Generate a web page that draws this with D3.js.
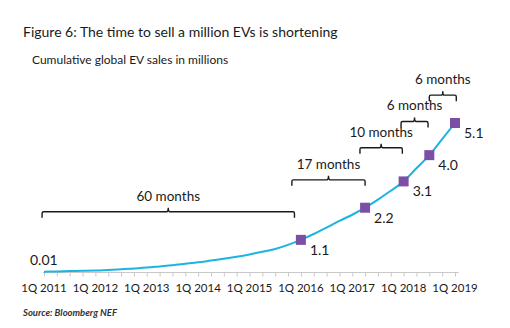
<!DOCTYPE html>
<html>
<head>
<meta charset="utf-8">
<script src="https://cdn.jsdelivr.net/npm/d3@7"></script>
<style>
  body { margin: 0; background: #fff; }
  svg { display: block; font-family: Lato, "Noto Sans", sans-serif; }
</style>
</head>
<body>
<div id="chart"></div>
<script>
// cumulative global EV sales (millions), one value per quarter from 1Q 2011 to 1Q 2019
let quarters = d3.range(33);
let sales = [0.01, 0.02, 0.03, 0.04, 0.05, 0.07, 0.09, 0.12, 0.15, 0.19,
             0.23, 0.28, 0.33, 0.39, 0.45, 0.52, 0.60, 0.69, 0.79, 0.93,
             1.1, 1.3, 1.52, 1.75, 1.96, 2.2, 2.48, 2.78, 3.1, 3.55,
             4.0, 4.55, 5.1];

// the quarters where another million was reached
let milestoneQuarters = [20, 25, 28, 30, 32];
let milestoneLabels = ["1.1", "2.2", "3.1", "4.0", "5.1"];

// tick labels every fourth quarter
let tickQuarters = [0, 4, 8, 12, 16, 20, 24, 28, 32];
let tickLabels = ["1Q 2011", "1Q 2012", "1Q 2013", "1Q 2014", "1Q 2015",
                  "1Q 2016", "1Q 2017", "1Q 2018", "1Q 2019"];

// time taken for each million, spanning quarter indices
let bracketLabels = ["60 months", "17 months", "10 months", "6 months", "6 months"];
let bracketFrom = [0, 20, 25, 28, 30];
let bracketStart = [-0.15, 19.3, 24.6, 27.8, 30.0];
let bracketEnd = [19.5, 25.0, 27.9, 29.9, 32.1];

let width = 510;
let height = 328;

let svg = d3.select("#chart")
    .append("svg")
    .attr("width", width)
    .attr("height", height);

let x = d3.scaleLinear()
    .domain([0, 32])
    .range([44, 455]);

let y = d3.scaleLinear()
    .domain([0, 5.1])
    .range([272, 123]);

// titles
svg.append("text")
    .attr("x", 23)
    .attr("y", 37)
    .attr("font-size", "14px")
    .attr("fill", "#1a1a1a")
    .text("Figure 6: The time to sell a million EVs is shortening");

svg.append("text")
    .attr("x", 32)
    .attr("y", 64)
    .attr("font-size", "12px")
    .attr("fill", "#1a1a1a")
    .text("Cumulative global EV sales in millions");

// x axis with a tick every quarter
let axis = svg.append("g")
    .attr("transform", `translate(0, ${y(0) + 0.5})`)
    .call(d3.axisBottom(x)
        .tickValues(quarters)
        .tickSize(4)
        .tickFormat(""));

axis.select(".domain")
    .attr("d", `M${x(-0.1)},0H${x(32.3)}`)
    .attr("stroke", "#c8c8c8");
axis.selectAll(".tick line").attr("stroke", "#c8c8c8");

svg.append("g")
    .selectAll("text")
    .data(tickQuarters)
    .join("text")
        .attr("x", d => x(d))
        .attr("y", 292)
        .attr("text-anchor", "middle")
        .attr("font-size", "11.5px")
        .attr("fill", "#1a1a1a")
        .text((d, i) => tickLabels[i]);

// sales line
let line = d3.line()
    .x((d, i) => x(quarters[i]))
    .y(d => y(d))
    .curve(d3.curveMonotoneX);

svg.append("path")
    .datum(sales)
    .attr("fill", "none")
    .attr("stroke", "#1cb4e2")
    .attr("stroke-width", 2)
    .attr("d", line);

svg.append("text")
    .attr("x", 30)
    .attr("y", 265)
    .attr("font-size", "14px")
    .attr("fill", "#1a1a1a")
    .text(sales[0]);

// milestone markers and their values
svg.append("g")
    .attr("fill", "#7b4fa5")
    .selectAll("rect")
    .data(milestoneQuarters)
    .join("rect")
        .attr("x", d => x(d) - 5)
        .attr("y", d => y(sales[d]) - 5)
        .attr("width", 10)
        .attr("height", 10);

svg.append("g")
    .selectAll("text")
    .data(milestoneQuarters)
    .join("text")
        .attr("x", d => x(d) + 9)
        .attr("y", d => y(sales[d]) + 15)
        .attr("font-size", "14px")
        .attr("fill", "#1a1a1a")
        .text((d, i) => milestoneLabels[i]);

// brackets float a fixed distance above the level where each period began
function bracketPath(x0, x1, yb) {
    let xm = (x0 + x1) / 2;
    return `M${x0},${yb + 6}V${yb + 1.5}Q${x0},${yb} ${x0 + 1.5},${yb}` +
        `H${xm - 1.5}Q${xm},${yb} ${xm},${yb - 4}Q${xm},${yb} ${xm + 1.5},${yb}` +
        `H${x1 - 1.5}Q${x1},${yb} ${x1},${yb + 1.5}V${yb + 6}`;
}

let bracketY = i => y(sales[bracketFrom[i]]) - 60;

let brackets = svg.append("g")
    .selectAll("g")
    .data(bracketLabels)
    .join("g");

brackets.append("path")
    .attr("fill", "none")
    .attr("stroke", "#1a1a1a")
    .attr("stroke-width", 1.4)
    .attr("d", (d, i) => bracketPath(x(bracketStart[i]), x(bracketEnd[i]), bracketY(i)));

brackets.append("text")
    .attr("x", (d, i) => (x(bracketStart[i]) + x(bracketEnd[i])) / 2)
    .attr("y", (d, i) => bracketY(i) - 11)
    .attr("text-anchor", "middle")
    .attr("font-size", "13.5px")
    .attr("fill", "#1a1a1a")
    .text(d => d);

svg.append("text")
    .attr("x", 23)
    .attr("y", 316)
    .attr("font-size", "9.5px")
    .attr("font-style", "italic")
    .attr("font-weight", "bold")
    .attr("fill", "#333")
    .text("Source: Bloomberg NEF");
</script>
</body>
</html>
